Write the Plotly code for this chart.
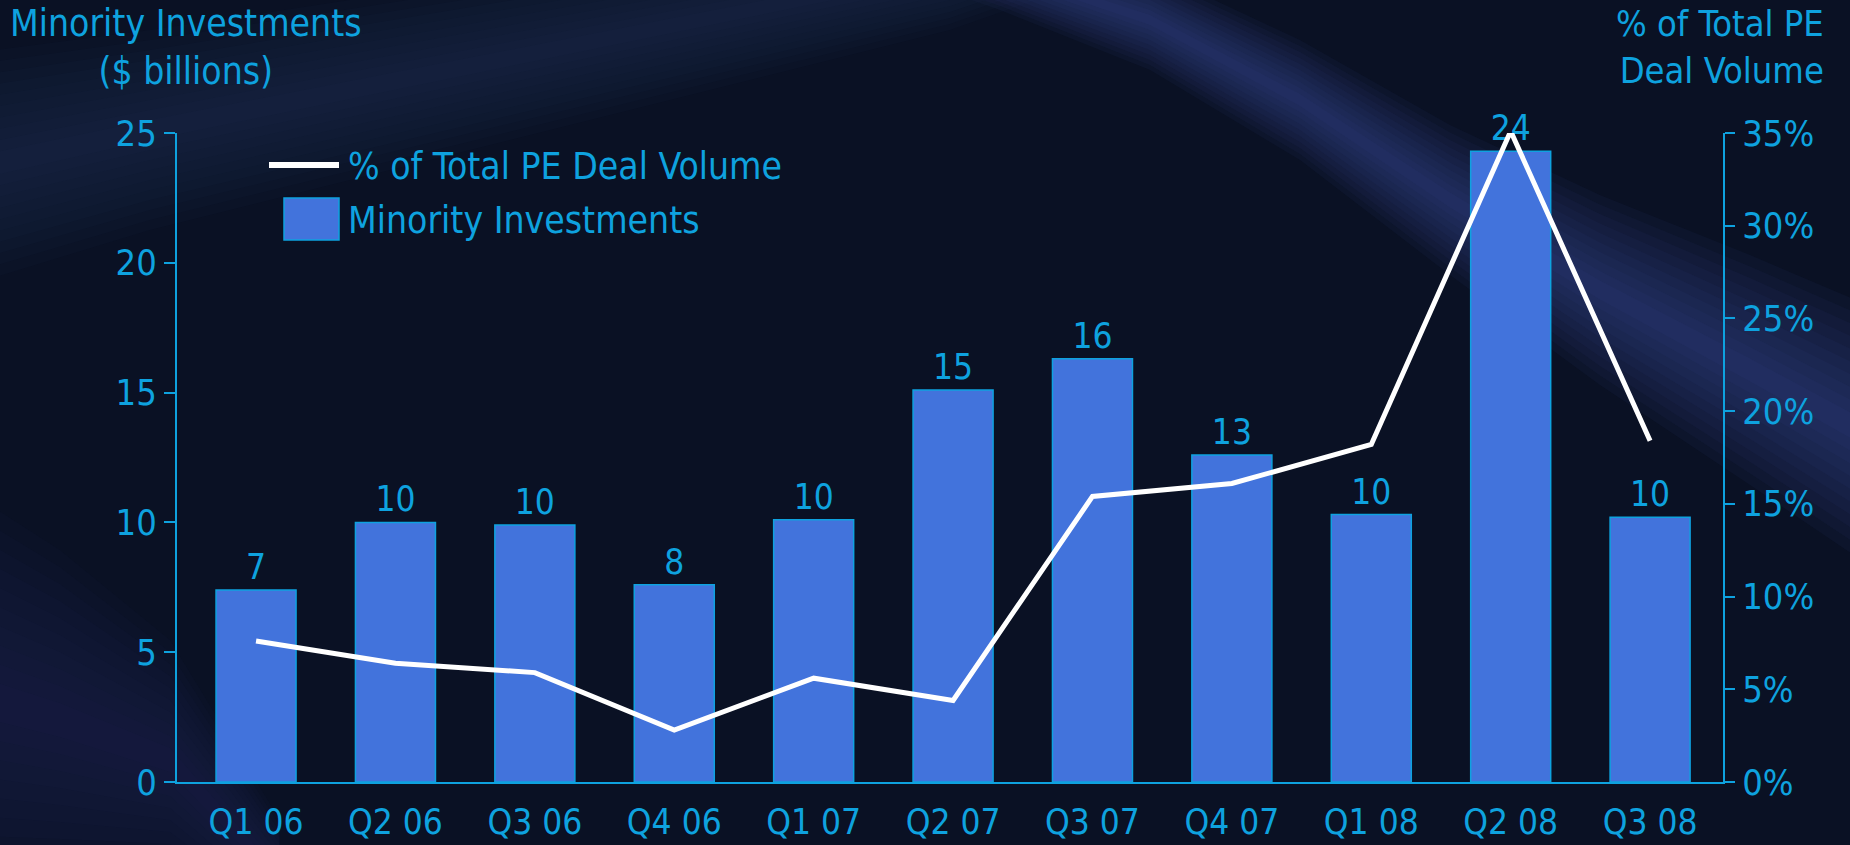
import plotly.graph_objects as go

# dati
quarters = ["Q1 06", "Q2 06", "Q3 06", "Q4 06", "Q1 07", "Q2 07", "Q3 07", "Q4 07", "Q1 08", "Q2 08", "Q3 08"]
minority_bn = [7.4, 10.0, 9.9, 7.6, 10.1, 15.1, 16.3, 12.6, 10.3, 24.3, 10.2]
pct_pe_volume = [7.6, 6.4, 5.9, 2.8, 5.6, 4.4, 15.4, 16.1, 18.2, 35.1, 18.4]
left_ticks = [0, 5, 10, 15, 20, 25]
right_ticks = [0, 5, 10, 15, 20, 25, 30, 35]

CYAN = "#0ea2df"
BAR = "#4273dc"
BG = "#0a1124"
FONT = "DejaVu Sans Condensed, DejaVu Sans, sans-serif"

W, H = 1850, 845
L, R, T, B = 177, 127, 133, 63
PW, PH = W - L - R, H - T - B


# converte pixel in coordinate paper (solo per decorazioni e legenda)
def px(x):
    return (x - L) / PW


def py(y):
    return (H - B - y) / PH


def band(center, widths, scale):
    # poligono attorno a una linea centrale, spessore verticale variabile
    top = [(x, y - w * scale) for (x, y), w in zip(center, widths)]
    bot = [(x, y + w * scale) for (x, y), w in zip(center, widths)][::-1]
    pts = top + bot
    return "M " + " L ".join(f"{px(x):.4f},{py(y):.4f}" for x, y in pts) + " Z"


fig = go.Figure()

fig.add_trace(go.Bar(
    x=quarters, y=minority_bn, name="Minority Investments",
    marker=dict(color=BAR, line=dict(color=CYAN, width=1.5)),
    texttemplate="%{y:.0f}", textposition="outside", cliponaxis=False,
    textfont=dict(color=CYAN, size=35, family=FONT),
))

fig.add_trace(go.Scatter(
    x=quarters, y=pct_pe_volume, name="% of Total PE Deal Volume",
    mode="lines", line=dict(color="white", width=5), yaxis="y2", cliponaxis=False,
))

# sfondo: pieghe di "seta" sfumate
folds = [
    dict(c=[(800, -90), (1000, -30), (1150, 20), (1300, 100), (1450, 200), (1600, 290), (1750, 370),
            (1950, 480)],
         w=[30, 40, 50, 60, 75, 95, 115, 140], rgb="65,100,175", a=0.055),
    dict(c=[(-80, 180), (150, 130), (350, 90), (550, 50), (750, 10), (950, -30), (1150, -90)],
         w=[120, 100, 90, 80, 70, 60, 50], rgb="45,70,125", a=0.045),
    dict(c=[(-80, 680), (60, 720), (170, 760), (280, 880)],
         w=[220, 170, 120, 60], rgb="35,55,105", a=0.045),
]
shapes = []
N = 10
for f in folds:
    for k in range(N):
        s = 1.0 - k / N
        shapes.append(dict(type="path", xref="paper", yref="paper", path=band(f["c"], f["w"], s),
                           fillcolor=f"rgba({f['rgb']},{f['a']})", line=dict(width=0), layer="below"))

# legenda disegnata a mano
shapes.append(dict(type="line", xref="paper", yref="paper",
                   x0=px(269), x1=px(339), y0=py(165), y1=py(165),
                   line=dict(color="white", width=6)))
shapes.append(dict(type="rect", xref="paper", yref="paper",
                   x0=px(284), x1=px(339), y0=py(198), y1=py(240),
                   fillcolor=BAR, line=dict(color=CYAN, width=1.5)))

annotations = [
    dict(text="% of Total PE Deal Volume", x=px(346), y=py(166)),
    dict(text="Minority Investments", x=px(346), y=py(220)),
]
for a in annotations:
    a.update(xref="paper", yref="paper", xanchor="left", yanchor="middle", showarrow=False,
             font=dict(color=CYAN, size=37, family=FONT))

annotations.append(dict(text="Minority Investments<br>($ billions)", x=px(186), y=py(47),
                        xref="paper", yref="paper", xanchor="center", yanchor="middle",
                        showarrow=False, align="center",
                        font=dict(color=CYAN, size=37, family=FONT)))
annotations.append(dict(text="% of Total PE<br>Deal Volume", x=px(1826), y=py(47),
                        xref="paper", yref="paper", xanchor="right", yanchor="middle",
                        showarrow=False, align="right",
                        font=dict(color=CYAN, size=36, family=FONT)))

fig.update_layout(
    width=W, height=H,
    margin=dict(l=L, r=R, t=T, b=B),
    paper_bgcolor=BG,
    plot_bgcolor="rgba(0,0,0,0)",
    showlegend=False,
    bargap=0.426,
    font=dict(family=FONT, color=CYAN, size=35),
    shapes=shapes,
    annotations=annotations,
    xaxis=dict(range=[-0.567, 10.523], showgrid=False, showline=True, linecolor=CYAN, linewidth=2,
               ticks="", ticklabelstandoff=8, automargin=False, tickfont=dict(size=35, color=CYAN)),
    yaxis=dict(range=[0, 25], tickvals=left_ticks, showgrid=False, zeroline=False, automargin=False,
               showline=True, linecolor=CYAN, linewidth=2, ticks="outside", ticklen=11,
               tickcolor=CYAN, tickwidth=2, tickfont=dict(size=36, color=CYAN)),
    yaxis2=dict(range=[0, 35], tickvals=right_ticks, ticktext=[f"{v}%" for v in right_ticks],
                overlaying="y", side="right", showgrid=False, zeroline=False, automargin=False,
                showline=True, linecolor=CYAN, linewidth=2, ticks="outside", ticklen=10,
                tickcolor=CYAN, tickwidth=2, tickfont=dict(size=36, color=CYAN)),
)

fig.write_html("out.html", config={"displayModeBar": False},
               post_script="document.body.style.margin='0';document.body.style.background='%s';" % BG)
